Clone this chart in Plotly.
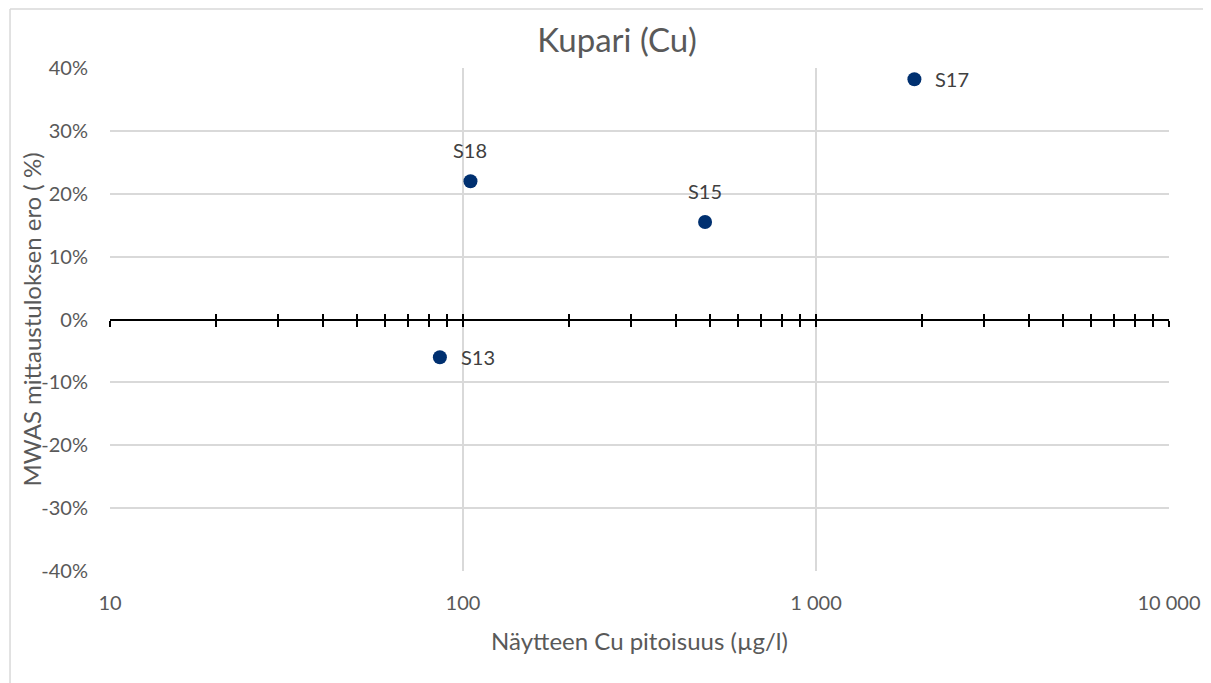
import math
import plotly.graph_objects as go

sample_names = ["S13", "S18", "S15", "S17"]
concentration = [86, 105, 485, 1900]
difference_pct = [-6.0, 22.0, 15.5, 38.2]
label_side = ["right", "above", "above", "right"]

x_tick_vals = [10, 100, 1000, 10000]
x_tick_text = ["10", "100", "1 000", "10 000"]
x_minor_vals = [20, 30, 40, 50, 60, 70, 80, 90,
                200, 300, 400, 500, 600, 700, 800, 900,
                2000, 3000, 4000, 5000, 6000, 7000, 8000, 9000]
y_tick_vals = [-40, -30, -20, -10, 0, 10, 20, 30, 40]
y_tick_text = [f"{v}%" for v in y_tick_vals]

FONT = "Lato, Open Sans, sans-serif"
GRID = "#d9d9d9"
TXT = "#595959"

fig = go.Figure()
fig.add_trace(go.Scatter(
    x=concentration, y=difference_pct, mode="markers",
    marker=dict(size=14, color="#003070"),
    showlegend=False, cliponaxis=False, hoverinfo="skip",
))
# helper traces so the crossing axis at y=0 is drawn
fig.add_trace(go.Scatter(x=[10], y=[0], xaxis="x2", mode="markers",
                         marker=dict(opacity=0), showlegend=False, hoverinfo="skip"))
fig.add_trace(go.Scatter(x=[10], y=[0], xaxis="x3", mode="markers",
                         marker=dict(opacity=0), showlegend=False, hoverinfo="skip"))

# data labels
for name, cx, dy, side in zip(sample_names, concentration, difference_pct, label_side):
    if side == "right":
        fig.add_annotation(x=math.log10(cx), y=dy, text=name, showarrow=False,
                           xanchor="left", yanchor="middle", xshift=19,
                           font=dict(size=20, color="#404040", family=FONT))
    else:
        fig.add_annotation(x=math.log10(cx), y=dy, text=name, showarrow=False,
                           xanchor="center", yanchor="middle", yshift=31,
                           font=dict(size=20, color="#404040", family=FONT))

# y axis title
fig.add_annotation(xref="paper", yref="paper", x=-0.0737, y=0.5,
                   text="MWAS mittaustuloksen ero ( %)", textangle=-90,
                   showarrow=False, xanchor="center", yanchor="middle",
                   font=dict(size=24, color=TXT, family=FONT))

fig.update_layout(
    width=1203, height=675,
    margin=dict(l=102, r=42, t=60, b=112),
    paper_bgcolor="white", plot_bgcolor="white",
    font=dict(family=FONT, color=TXT, size=20),
    title=dict(text="Kupari (Cu)", x=0.4788, xref="paper", y=1 - 32 / 675, yref="container",
               xanchor="center", yanchor="middle",
               font=dict(size=33, color=TXT, family=FONT)),
    xaxis=dict(type="log", range=[1, 4], tickvals=x_tick_vals, ticktext=x_tick_text,
               showgrid=True, gridcolor=GRID, gridwidth=1.5, showline=False,
               zeroline=False, ticks="", ticklabelstandoff=18, automargin=False,
               tickfont=dict(size=20, color=TXT),
               title=dict(text="Näytteen Cu pitoisuus (µg/l)", standoff=20,
                          font=dict(size=24, color=TXT))),
    xaxis2=dict(type="log", range=[1, 4], overlaying="x", anchor="free", position=0.5,
                side="bottom", showline=True, linecolor="black", linewidth=2,
                showgrid=False, zeroline=False, tickvals=x_tick_vals, showticklabels=False,
                ticks="outside", ticklen=6, tickwidth=2, tickcolor="black", automargin=False,
                minor=dict(tickvals=x_minor_vals, ticks="outside", ticklen=6,
                           tickwidth=1.5, tickcolor="black", showgrid=False)),
    xaxis3=dict(type="log", range=[1, 4], overlaying="x", anchor="free", position=0.5,
                side="bottom", showline=False, showgrid=False, zeroline=False,
                tickvals=x_tick_vals, showticklabels=False, automargin=False,
                ticks="inside", ticklen=6, tickwidth=2, tickcolor="black",
                minor=dict(tickvals=x_minor_vals, ticks="inside", ticklen=6,
                           tickwidth=1.5, tickcolor="black", showgrid=False)),
    yaxis=dict(range=[-40, 40], tickvals=y_tick_vals, ticktext=y_tick_text,
               showgrid=True, gridcolor=GRID, gridwidth=1.5, zeroline=False,
               showline=False, ticks="", ticklabelstandoff=21, automargin=False,
               tickfont=dict(size=20, color=TXT)),
    shapes=[
        dict(type="line", xref="paper", yref="paper", x0=-0.0944, x1=1.05,
             y0=1.1173, y1=1.1173, line=dict(color=GRID, width=1.5), layer="below"),
        dict(type="line", xref="paper", yref="paper", x0=-0.0944, x1=-0.0944,
             y0=1.1173, y1=-0.25, line=dict(color=GRID, width=1.5), layer="below"),
    ],
)
fig.write_html("out.html")
